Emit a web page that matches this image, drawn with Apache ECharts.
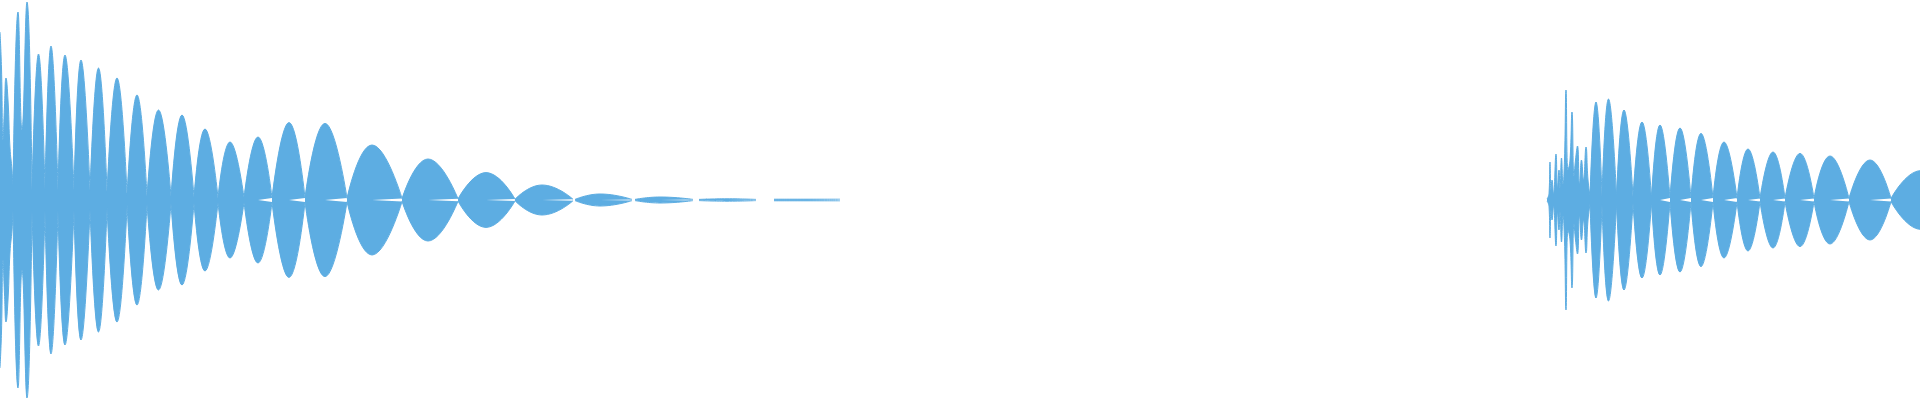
<!DOCTYPE html>
<html>
<head>
<meta charset="utf-8">
<script src="https://cdn.jsdelivr.net/npm/echarts@6/dist/echarts.min.js"></script>
<style>
html,body{margin:0;padding:0;background:#ffffff;}
#chart{width:1920px;height:400px;}
</style>
</head>
<body>
<div id="chart"></div>
<script>
// Time axis in milliseconds, amplitude normalised to [-1, 1].
const timeMin = 0;
const timeMax = 1920;

// Jagged onset clusters (time ms, peak amplitude); '-' ends a cluster.
const leftOnsetMs = [0, 1.5, 3, 4.5, 6, 8, 10, 12, 13, '-', 13, 18, 22, 27, 32];
const leftOnsetAmp = [0.84, 0.66, 0.30, 0.47, 0.61, 0.50, 0.26, 0.15, 0.05, '-', 0.05, 0.94, 0.35, 0.99, 0.05];
const rightOnsetMs = [
  1547, 1549, 1550, 1551, 1552, 1553.5, 1556, 1557.5, 1559, 1560, 1561.5, 1563, 1564.5,
  1566, 1568, 1570, 1572, 1574, 1575.5, 1577.5, 1579.5, 1581.5, 1583.5, 1586, 1588, 1590
];
const rightOnsetAmp = [
  0.005, 0.03, 0.19, 0.05, 0.10, 0.03, 0.23, 0.06, 0.15, 0.06, 0.21, 0.08, 0.20,
  0.55, 0.15, 0.20, 0.44, 0.12, 0.20, 0.27, 0.08, 0.20, 0.10, 0.265, 0.10, 0.02
];

// Regular beating lobes: start (neck), peak and end (neck) times in ms.
const lobeStartMs = [
  32, 45, 58, 74, 90, 107, 127, 147, 171, 194, 218, 244, 272, 305, 347, 402, 458, 515, 575, 635, 699, 774,
  1590, 1602, 1616.5, 1633, 1651.5, 1670, 1691, 1713, 1737, 1760, 1785, 1814, 1849, 1891
];
const lobePeakMs = [
  38.5, 51, 65, 81, 98.5, 117, 137, 158.5, 182, 205, 230, 258, 289, 325, 372, 428, 486, 542, 600, 660, 727, 807,
  1596, 1608.5, 1624, 1642, 1660, 1680, 1701, 1724, 1748, 1773, 1800, 1830, 1870, 1921
];
const lobeEndMs = [
  45, 58, 74, 90, 107, 127, 147, 171, 194, 218, 244, 272, 305, 347, 402, 458, 515, 573, 632, 693, 756, 840,
  1602, 1616.5, 1633, 1651.5, 1670, 1691, 1713, 1737, 1760, 1785, 1814, 1849, 1891, 1952
];
const lobePeakAmp = [
  0.73, 0.77, 0.725, 0.70, 0.66, 0.61, 0.525, 0.45, 0.425, 0.355, 0.29, 0.315, 0.387, 0.383, 0.275, 0.205, 0.137, 0.075, 0.03, 0.015, 0.006, 0.004,
  0.49, 0.505, 0.45, 0.39, 0.375, 0.36, 0.333, 0.29, 0.255, 0.24, 0.233, 0.22, 0.20, 0.147
];
const lobeNeckAmp = [
  0.05, 0.05, 0.05, 0.05, 0.045, 0.035, 0.02, 0.017, 0.015, 0.013, 0.012, 0.01, 0.01, 0.01, 0.008, 0.006, 0.005, 0.004, 0.003, 0.003, 0.003, 0.004,
  0.02, 0.02, 0.015, 0.012, 0.01, 0.01, 0.01, 0.01, 0.008, 0.008, 0.008, 0.008, 0.008, 0.008
];

const waveColor = '#5DADE2';

function clusterPoints(times, amps, sign) {
  const pts = [];
  for (let i = 0; i < times.length; i++) {
    if (amps[i] === '-') { pts.push([times[i - 1], '-']); continue; }
    pts.push([times[i], sign * amps[i]]);
  }
  pts.push([times[times.length - 1], '-']);
  return pts;
}

function lobePoints(sign, from, to) {
  const pts = [];
  for (let i = 0; i < lobeStartMs.length; i++) {
    if (lobeStartMs[i] < from || lobeStartMs[i] >= to) continue;
    pts.push([lobeStartMs[i], sign * lobeNeckAmp[i]]);
    pts.push([lobePeakMs[i], sign * lobePeakAmp[i]]);
    pts.push([lobeEndMs[i], sign * lobeNeckAmp[i]]);
    pts.push([lobeEndMs[i], '-']);
  }
  return pts;
}

function envelope(sign) {
  return clusterPoints(leftOnsetMs, leftOnsetAmp, sign)
    .concat(lobePoints(sign, 0, 1000))
    .concat(clusterPoints(rightOnsetMs, rightOnsetAmp, sign))
    .concat(lobePoints(sign, 1000, 3000));
}

const chart = echarts.init(document.getElementById('chart'), null, { renderer: 'canvas' });

function envelopeSeries(sign) {
  return {
    type: 'line',
    data: envelope(sign),
    smooth: 0.5,
    symbol: 'none',
    showSymbol: false,
    connectNulls: false,
    silent: true,
    clip: true,
    lineStyle: { color: waveColor, width: 1 },
    areaStyle: { color: waveColor, opacity: 1 },
    emphasis: { disabled: true }
  };
}

chart.setOption({
  animation: false,
  backgroundColor: '#ffffff',
  grid: { left: 0, right: 0, top: 0, bottom: 0 },
  xAxis: { type: 'value', min: timeMin, max: timeMax, show: false },
  yAxis: { type: 'value', min: -1, max: 1, show: false },
  series: [envelopeSeries(1), envelopeSeries(-1)]
});
</script>
</body>
</html>
